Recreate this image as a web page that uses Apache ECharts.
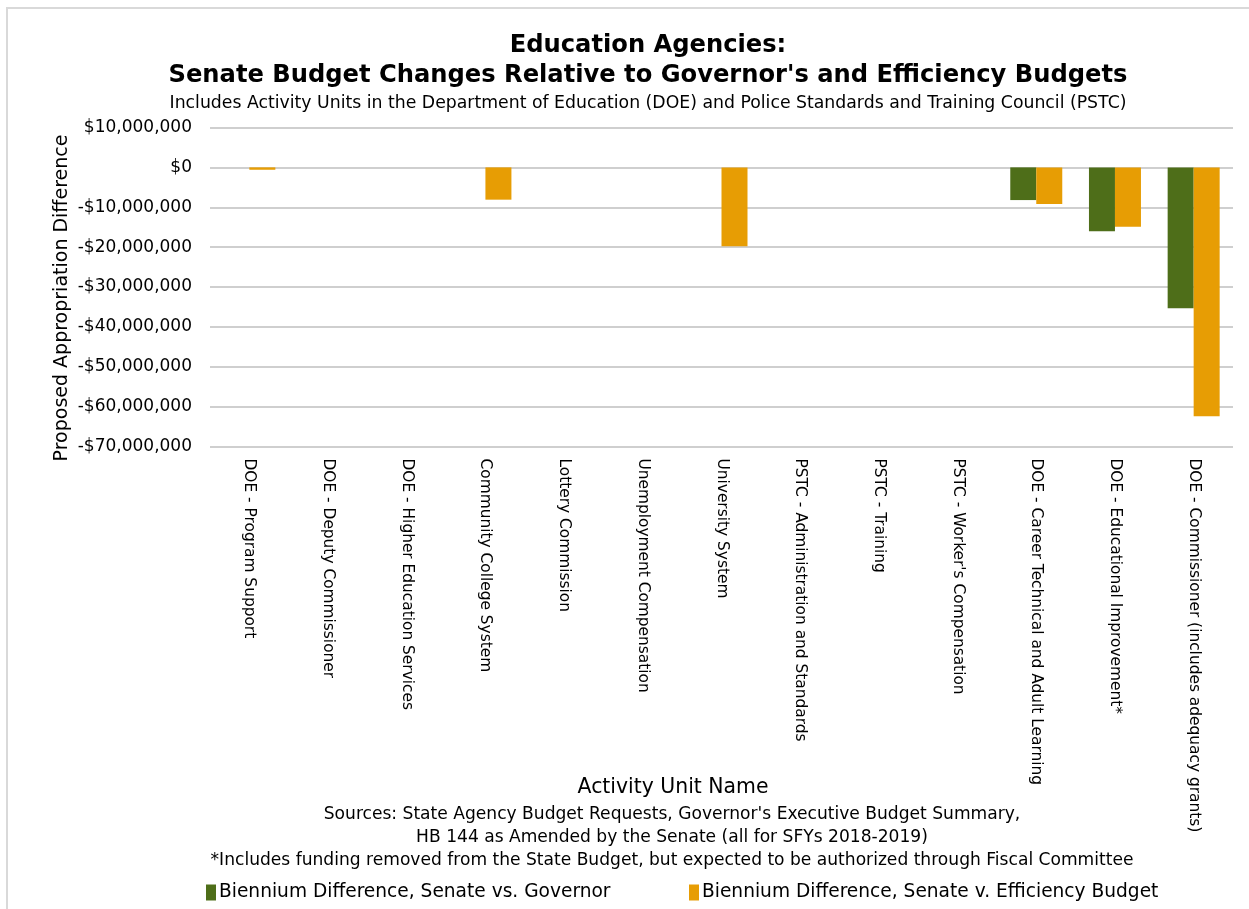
<!DOCTYPE html>
<html>
<head>
<meta charset="utf-8">
<script src="https://cdn.jsdelivr.net/npm/echarts@6/dist/echarts.min.js"></script>
<style>
  html, body { margin: 0; padding: 0; background: #fff; }
  #chart { width: 1249px; height: 909px; }
</style>
</head>
<body>
<div id="chart"></div>
<script>
const categories = [
  'DOE - Program Support',
  'DOE - Deputy Commissioner',
  'DOE - Higher Education Services',
  'Community College System',
  'Lottery Commission',
  'Unemployment Compensation',
  'University System',
  'PSTC - Administration and Standards',
  'PSTC - Training',
  "PSTC - Worker's Compensation",
  'DOE - Career Technical and Adult Learning',
  'DOE - Educational Improvement*',
  'DOE - Commissioner (includes adequacy grants)'
]
const seriesNames = [
  'Biennium Difference, Senate vs. Governor',
  'Biennium Difference, Senate v. Efficiency Budget'
]
const senateVsGovernor = [0, 0, 0, 0, 0, 0, 0, 0, 0, 0, -8200000, -16000000, -35300000]
const senateVsEfficiency = [-600000, 0, 0, -8100000, 0, 0, -19800000, 0, 0, 0, -9200000, -14900000, -62400000]
const footnotes = [
  "Sources: State Agency Budget Requests, Governor's Executive Budget Summary,",
  'HB 144 as Amended by the Senate (all for SFYs 2018-2019)',
  '*Includes funding removed from the State Budget, but expected to be authorized through Fiscal Committee'
]

const FONT = 'DejaVu Sans'
const GREEN = '#4E6E19'
const ORANGE = '#E79D04'

function money(v) {
  const s = '$' + Math.abs(v).toLocaleString('en-US')
  return v < 0 ? '-' + s : s
}

const chart = echarts.init(document.getElementById('chart'))

const legendCommon = {
  bottom: 2,
  itemWidth: 10,
  itemHeight: 16,
  icon: 'rect',
  textStyle: { fontFamily: FONT, fontSize: 18.6, color: '#000', padding: [0, 0, 0, -2] }
}

chart.setOption({
  animation: false,
  textStyle: { fontFamily: FONT, color: '#000' },
  title: {
    text: "Education Agencies:\nSenate Budget Changes Relative to Governor's and Efficiency Budgets",
    subtext: 'Includes Activity Units in the Department of Education (DOE) and Police Standards and Training Council (PSTC)',
    left: 643,
    top: 26,
    textAlign: 'center',
    itemGap: 4,
    textStyle: { fontFamily: FONT, fontSize: 24.2, fontWeight: 'bold', color: '#000', lineHeight: 30 },
    subtextStyle: { fontFamily: FONT, fontSize: 17.3, color: '#000' }
  },
  legend: [
    Object.assign({ data: [seriesNames[0]], left: 201 }, legendCommon),
    Object.assign({ data: [seriesNames[1]], left: 684 }, legendCommon)
  ],
  grid: {
    left: 210,
    right: 16,
    top: 127.5,
    bottom: 462.5,
    containLabel: false
  },
  xAxis: {
    type: 'category',
    data: categories,
    axisLine: { show: false, onZero: false },
    axisTick: { show: false },
    axisLabel: { rotate: -90, margin: 12, fontSize: 15.4, color: '#000', fontFamily: FONT, interval: 0 }
  },
  yAxis: {
    type: 'value',
    min: -70000000,
    max: 10000000,
    interval: 10000000,
    axisLine: { show: false },
    axisTick: { show: false },
    axisLabel: { formatter: money, fontSize: 17, color: '#000', fontFamily: FONT, margin: 18 },
    splitLine: { lineStyle: { color: '#BFBFBF', width: 1.5 } }
  },
  series: [
    {
      name: seriesNames[0],
      type: 'bar',
      data: senateVsGovernor,
      barWidth: 26,
      barGap: '0%',
      itemStyle: { color: GREEN }
    },
    {
      name: seriesNames[1],
      type: 'bar',
      data: senateVsEfficiency,
      barWidth: 26,
      itemStyle: { color: ORANGE }
    }
  ],
  graphic: [
    {
      type: 'rect',
      silent: true,
      shape: { x: 7, y: 8, width: 1300, height: 1000 },
      style: { fill: 'none', stroke: '#D9D9D9', lineWidth: 2 }
    },
    {
      type: 'text',
      x: 62,
      y: 298,
      rotation: Math.PI / 2,
      style: {
        text: 'Proposed Appropriation Difference',
        align: 'center',
        verticalAlign: 'middle',
        font: '19px "DejaVu Sans"',
        fill: '#000'
      }
    },
    {
      type: 'text',
      x: 673,
      y: 788,
      style: {
        text: 'Activity Unit Name',
        align: 'center',
        verticalAlign: 'middle',
        font: '20.4px "DejaVu Sans"',
        fill: '#000'
      }
    },
    ...footnotes.map((t, i) => ({
      type: 'text',
      x: 672,
      y: 815 + i * 23,
      style: {
        text: t,
        align: 'center',
        verticalAlign: 'middle',
        font: '17.1px "DejaVu Sans"',
        fill: '#000'
      }
    }))
  ]
})

window.addEventListener('resize', () => chart.resize())
</script>
</body>
</html>
